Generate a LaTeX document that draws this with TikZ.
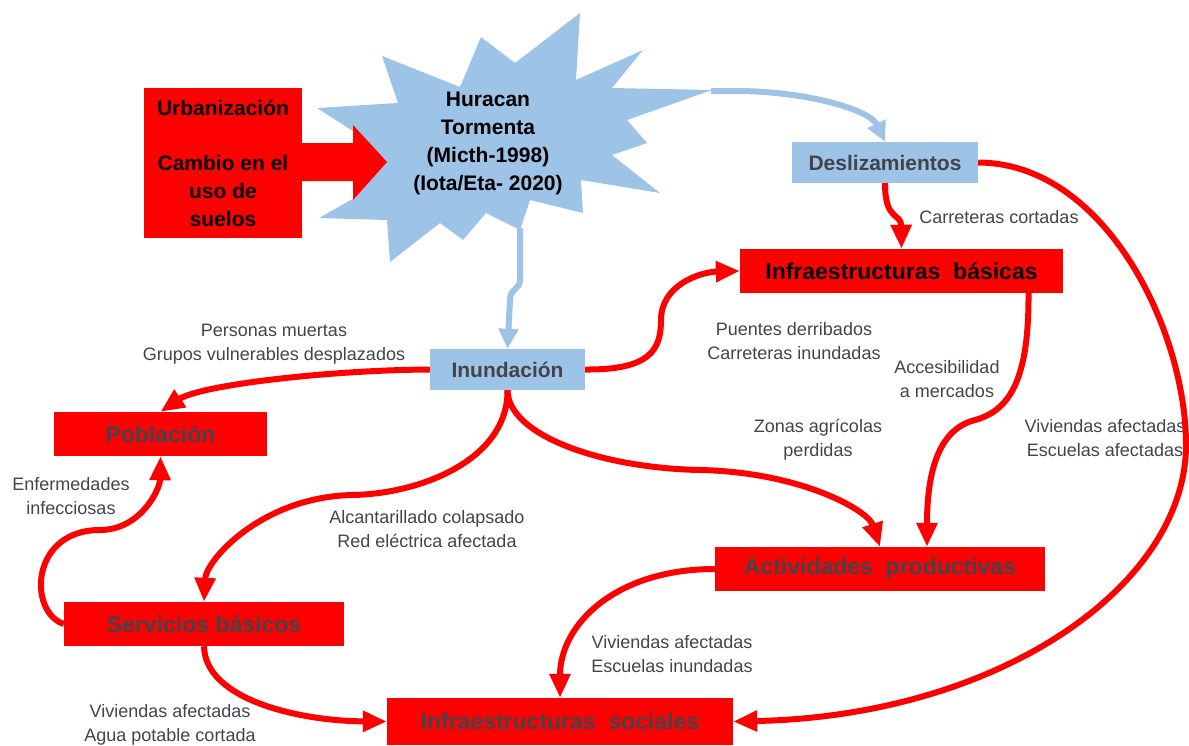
\documentclass[tikz,border=0pt]{standalone}
\usepackage{fontspec}
\setmainfont{Liberation Sans}
\usetikzlibrary{arrows.meta,calc}
\colorlet{myred}{red}
\definecolor{myblue}{RGB}{157,195,230}
\definecolor{mygray}{RGB}{66,68,76}

\begin{document}
\begin{tikzpicture}[x=1pt,y=-1pt,line join=round]
\useasboundingbox (0,0) rectangle (1189,745);
\fill[myblue] (580,13) -- (576,80) -- (643,50) -- (612,88) -- (712,90) -- (627,120) -- (647,143)
  -- (612,155) -- (660,193) -- (581,180) -- (583,213) -- (530,200) -- (520,230) -- (486,213)
  -- (463,240) -- (440,223) -- (390,262) -- (387,220) -- (319,218) -- (356,197) -- (356,133)
  -- (317,108) -- (398,103) -- (382,56) -- (460,87) -- (481,37) -- (515,63) -- cycle;
\coordinate (huracanE) at (711,91);
\coordinate (huracanS) at (520,228);
\tikzset{BoxStyle/.style ={rectangle, fill=myred, inner sep=0, align=center, text=black, font=\bfseries\fontsize{21}{28}\selectfont}}
\node[BoxStyle, minimum width=158pt, minimum height=150pt] (urban) at (223,163) {Urbanización\\[27pt]Cambio en el\\uso de\\suelos};
\fill[myred] (300,143) -- (353,143) -- (353,125) -- (387,162) -- (353,200) -- (353,181) -- (300,181) -- cycle;
\node[align=center, font=\bfseries\fontsize{21}{28}\selectfont] (huracan) at (488,143) {Huracan\\Tormenta\\(Micth-1998)\\(Iota/Eta- 2020)};
\tikzset{BoxStyle/.style ={rectangle, fill=myblue, inner sep=0, text=mygray, font=\bfseries\fontsize{21}{28}\selectfont}}
\node[BoxStyle, minimum width=186pt, minimum height=41pt] (deslz) at (885,162.5) {Deslizamientos};
\node[BoxStyle, minimum width=155pt, minimum height=41pt] (inund) at (507.5,369.5) {Inundación};
\tikzset{BoxStyle/.style ={rectangle, fill=myred, inner sep=0, text=mygray, font=\bfseries\fontsize{23}{28}\selectfont}}
\node[BoxStyle, minimum width=323pt, minimum height=44pt, text=black] (infbas) at (901.5,271) {Infraestructuras~~básicas};
\node[BoxStyle, minimum width=213pt, minimum height=44pt] (pobl) at (160.5,434) {Población};
\node[BoxStyle, minimum width=280pt, minimum height=44pt] (serv) at (204,624) {Servicios básicos};
\node[BoxStyle, minimum width=330pt, minimum height=44pt] (activ) at (880,569) {Actividades~~productivas};
\node[BoxStyle, minimum width=346pt, minimum height=47pt] (infsoc) at (560,721.5) {Infraestructuras~~sociales};
\tikzset{LabelStyle/.style ={inner sep=0, align=center, text=mygray, font=\fontsize{18}{24}\selectfont}}
\node[LabelStyle] (lpobl) at (274,344) {Personas muertas\\Grupos vulnerables desplazados};
\node[LabelStyle] (lenf) at (71,496) {Enfermedades\\infecciosas};
\node[LabelStyle] (lalc) at (427,529) {Alcantarillado colapsado\\Red eléctrica afectada};
\node[LabelStyle] (lagua) at (170,725) {Viviendas afectadas\\Agua potable cortada};
\node[LabelStyle] (lpuen) at (794,341) {Puentes derribados\\Carreteras inundadas};
\node[LabelStyle] (lcarr) at (999,217) {Carreteras cortadas};
\node[LabelStyle] (lacc) at (947,379) {Accesibilidad\\a mercados};
\node[LabelStyle] (lzon) at (818,440) {Zonas agrícolas\\perdidas};
\node[LabelStyle] (lesca) at (1105,438) {Viviendas afectadas\\Escuelas afectadas};
\node[LabelStyle] (lesci) at (672,654) {Viviendas afectadas\\Escuelas inundadas};
\tikzset{EdgeStyle/.style ={-{Triangle[length=20pt,width=19pt]}, line width=6pt, color=myblue}}
\draw[EdgeStyle] (huracanE) -- (740,91) .. controls (810,92) and (870,110) .. (deslz.north);
\draw[EdgeStyle] (huracanS) -- (520,280) .. controls (520,290) and (510,288) .. (510,300) -- (inund.north);
\tikzset{EdgeStyle/.style ={-{Triangle[length=24pt,width=20pt]}, line width=6pt, color=myred}}
\draw[EdgeStyle] (inund.west) .. controls (330,370) and (200,385) .. (pobl.north);
\draw[EdgeStyle] (inund.south) .. controls (508,460) and (420,494) .. (352,495) .. controls (262,497) and (206,560) .. (serv.north);
\draw[EdgeStyle] (inund.south) .. controls (508,435) and (600,468) .. (700,470) .. controls (800,472) and (868,510) .. (activ.north);
\draw[EdgeStyle] (inund.east) .. controls (650,370) and (661,350) .. (661,320) .. controls (661,285) and (700,272) .. (infbas.west);
\draw[EdgeStyle] (deslz.south) .. controls (885,222) and (901,212) .. (infbas.north);
\draw[EdgeStyle] (deslz.east) .. controls (1105,163) and (1186,330) .. (1186,445) .. controls (1186,585) and (1000,716) .. (infsoc.east);
\draw[EdgeStyle] ($(infbas.south)+(127,0)$) .. controls (1029,375) and (1012,410) .. (975,420) .. controls (935,430) and (927,480) .. ($(activ.north)+(47,0)$);
\draw[EdgeStyle] (serv.west) .. controls (28,612) and (30,530) .. (100,530) .. controls (140,530) and (160,490) .. (pobl.south);
\draw[EdgeStyle] (serv.south) .. controls (205,700) and (300,721) .. (infsoc.west);
\draw[EdgeStyle] (activ.west) .. controls (615,569) and (560,625) .. (infsoc.north);
\end{tikzpicture}
\end{document}
